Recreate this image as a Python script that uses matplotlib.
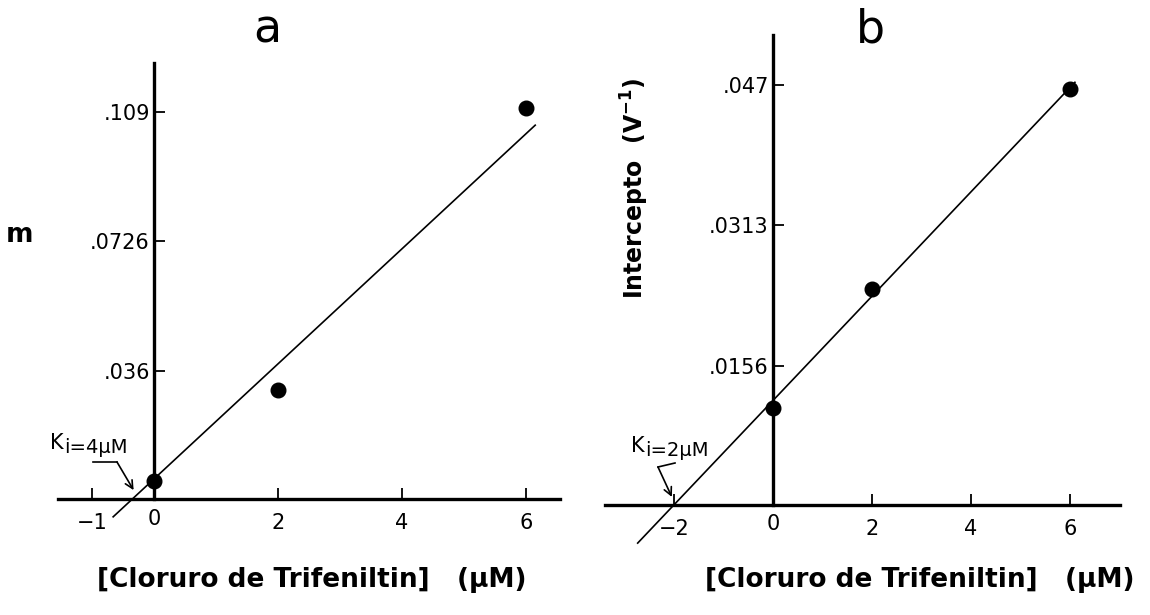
import matplotlib
matplotlib.use("Agg")
import matplotlib.pyplot as plt
import numpy as np

plt.rcParams["font.family"] = ["DejaVu Sans"]

W, H = 1150, 615

# panel a: slope replot
conc_a = [0, 2, 6]
slope_a = [0.005, 0.0307, 0.110]
fit_a_m = 0.0162          # fitted line slope
fit_a_x0 = -0.35          # x-intercept of fitted line
fit_a_range = (-0.66, 6.15)
yticks_a = [0.036, 0.0726, 0.109]
yticklabels_a = [".036", ".0726", ".109"]
xticks_a = [-1, 2, 4, 6]
xticklabels_a = ["\u22121", "2", "4", "6"]

# panel b: intercept replot
conc_b = [0, 2, 6]
icpt_b = [0.0109, 0.0242, 0.0466]
fit_b_m = 0.00584
fit_b_x0 = -2.0
fit_b_range = (-2.73, 6.1)
yticks_b = [0.0156, 0.0313, 0.047]
yticklabels_b = [".0156", ".0313", ".047"]
xticks_b = [-2, 2, 4, 6]
xticklabels_b = ["\u22122", "2", "4", "6"]


def fx(x):
    return x / W


def fy(y):
    return 1 - y / H


def px_axes(fig, left, top, right, bottom):
    return fig.add_axes([fx(left), fy(bottom), (right - left) / W, (bottom - top) / H])


def style(ax, xlim, ylim, xticks, xlabels, yticks, ylabels):
    ax.set_xlim(*xlim)
    ax.set_ylim(*ylim)
    for s in ("top", "right"):
        ax.spines[s].set_visible(False)
    ax.spines["left"].set_position(("data", 0))
    ax.spines["bottom"].set_position(("data", 0))
    ax.spines["left"].set_bounds(0, ylim[1])
    for s in ("left", "bottom"):
        ax.spines[s].set_linewidth(2.4)
    ax.set_xticks(xticks)
    ax.set_xticklabels(xlabels)
    ax.set_yticks(yticks)
    ax.set_yticklabels(ylabels)
    ax.tick_params(axis="x", direction="in", length=8, width=1.3, labelsize=15, pad=10)
    ax.tick_params(axis="y", direction="in", length=8, width=1.3, labelsize=15, pad=3)
    ax.patch.set_visible(False)


def ki_label(fig, ax, x, y, sub, tip, bar):
    fig.text(fx(x), fy(y), "K", fontsize=15, va="baseline")
    fig.text(fx(x + 14), fy(y + 4), sub, fontsize=14, va="baseline")
    (x0, y0), (x1, y1) = bar
    fig.add_artist(plt.Line2D([fx(x0), fx(x1)], [fy(y0), fy(y1)], color="black", lw=1.2))
    ax.annotate("", xy=tip, xycoords="data", xytext=(fx(x1), fy(y1)),
                textcoords="figure fraction",
                arrowprops=dict(arrowstyle="->", lw=1.2, color="black",
                                shrinkA=0, shrinkB=0, mutation_scale=14))


fig = plt.figure(figsize=(W / 100, H / 100), dpi=100)

# ---- panel a ----
axa = px_axes(fig, 58, 63, 560, 530)
style(axa, (-1.55, 6.55), (-(530 - 499) / 3550, (499 - 63) / 3550),
      xticks_a, xticklabels_a, yticks_a, yticklabels_a)
xa = np.array(fit_a_range)
axa.plot(xa, fit_a_m * (xa - fit_a_x0), color="black", lw=1.2)
axa.plot(conc_a, slope_a, "o", color="black", ms=10.5, clip_on=False)
ki_label(fig, axa, 50, 449, "i=4\u00b5M", (fit_a_x0 + 0.02, 0.0025),
         ((93, 462), (117, 462)))

# ---- panel b ----
axb = px_axes(fig, 605, 35, 1120, 545)
style(axb, (-3.39, 7.01), (-(545 - 505) / 8936, (505 - 35) / 8936),
      xticks_b, xticklabels_b, yticks_b, yticklabels_b)
xb = np.array(fit_b_range)
axb.plot(xb, fit_b_m * (xb - fit_b_x0), color="black", lw=1.2)
axb.plot(conc_b, icpt_b, "o", color="black", ms=10.5, clip_on=False)
ki_label(fig, axb, 631, 452, "i=2\u00b5M", (fit_b_x0 - 0.04, 0.0009),
         ((675, 463), (658, 467)))

# "0" labels under the axis crossings
fig.text(fx(154), fy(519), "0", ha="center", va="center", fontsize=15)
fig.text(fx(773), fy(524), "0", ha="center", va="center", fontsize=15)

# panel letters and axis titles
fig.text(fx(267), fy(30), "a", ha="center", va="center", fontsize=33)
fig.text(fx(870), fy(30), "b", ha="center", va="center", fontsize=33)
fig.text(fx(20), fy(235), "m", ha="center", va="center", fontsize=19, fontweight="bold")
fig.text(fx(635), fy(77), "Intercepto  (V$^{\\mathbf{-1}}$)", ha="center", va="top",
         rotation=90, fontsize=17, fontweight="bold")
xlabel = "[Cloruro de Trifeniltin]   (\u00b5M)"
fig.text(fx(97), fy(580), xlabel, ha="left", va="center", fontsize=19, fontweight="bold")
fig.text(fx(705), fy(580), xlabel, ha="left", va="center", fontsize=19, fontweight="bold")

fig.savefig("out.png", dpi=100, facecolor="white")
